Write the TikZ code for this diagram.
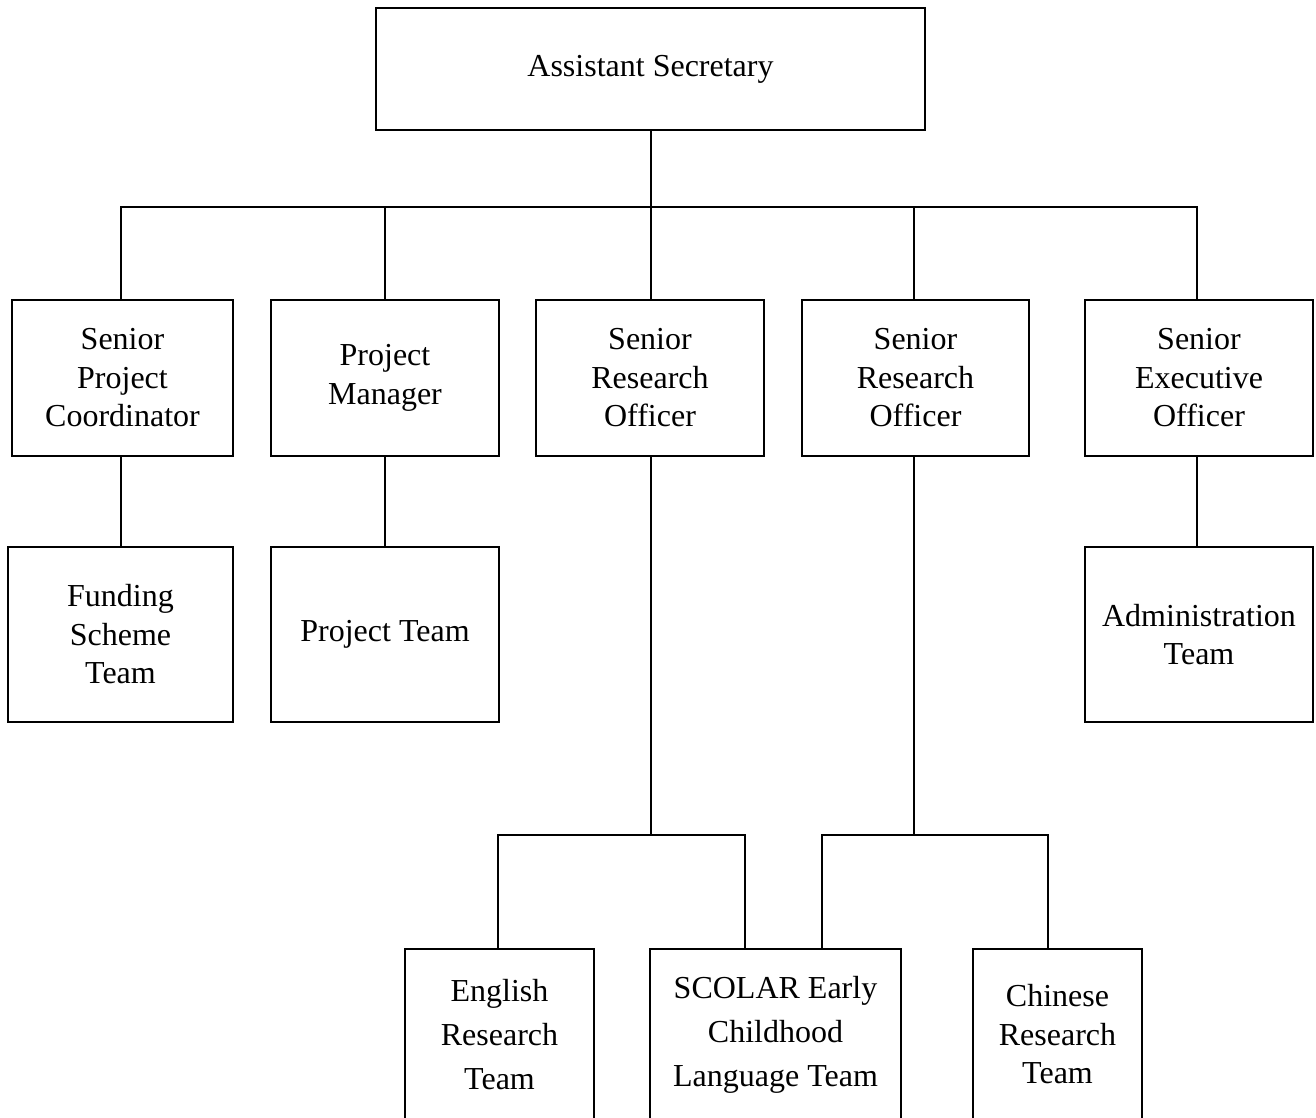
\documentclass[tikz,border=0pt]{standalone}
\usepackage{fontspec}
\setmainfont{Liberation Serif}
\usepackage{tikz}
\usetikzlibrary{positioning}

\begin{document}
\begin{tikzpicture}[-,x=1pt,y=1pt,line width=1.1pt]
		\tikzstyle{box}=[draw=black,rectangle,inner sep=0pt,align=center,font=\fontsize{32}{38.5}\selectfont]
		\tikzstyle{lowbox}=[box,minimum height=171pt,font=\fontsize{32}{44}\selectfont]
		\useasboundingbox (0,0) rectangle (1316,-1117);
		
		\node[box,minimum width=549pt,minimum height=122pt]	(AsstSec)	at (650.5,-69)		{Assistant Secretary};
		
		\node[box,minimum width=221pt,minimum height=156pt]	(SPC)		at (122.5,-378)		{Senior\\Project\\Coordinator};
		\node[box,minimum width=228pt,minimum height=156pt]	(PM)		at (385,-378)		{Project\\Manager};
		\node[box,minimum width=228pt,minimum height=156pt]	(SROa)		at (650,-378)		{Senior\\Research\\Officer};
		\node[box,minimum width=227pt,minimum height=156pt]	(SROb)		at (915.5,-378)		{Senior\\Research\\Officer};
		\node[box,minimum width=228pt,minimum height=156pt]	(SEO)		at (1199,-378)		{Senior\\Executive\\Officer};
		
		\node[box,minimum width=225pt,minimum height=175pt]	(Funding)	at (120.5,-634.5)	{Funding\\Scheme\\Team};
		\node[box,minimum width=228pt,minimum height=175pt]	(ProjTeam)	at (385,-634.5)		{Project Team};
		\node[box,minimum width=228pt,minimum height=175pt]	(Admin)		at (1199,-634.5)	{Administration\\Team};
		
		\node[lowbox,minimum width=189pt]	(English)	at (499.5,-1034.5)	{English\\Research\\Team};
		\node[lowbox,minimum width=251pt]	(Scolar)	at (775.5,-1034.5)	{SCOLAR Early\\Childhood\\Language Team};
		\node[box,minimum width=169pt,minimum height=171pt]	(Chinese)	at (1057.5,-1034.5)	{Chinese\\Research\\Team};
		
		\coordinate (Bus)	at (651,-207);
		\coordinate (ForkA)	at (651,-835);
		\coordinate (ForkB)	at (914,-835);
		
		% top level
		\draw (Bus |- AsstSec.south) -- (Bus);
		\draw (Bus) -| ([xshift=-1.5pt]SPC.north);
		\draw (Bus) -| (PM);
		\draw (Bus) -- (Bus |- SROa.north);
		\draw (Bus) -| ([xshift=-1.5pt]SROb.north);
		\draw (Bus) -| ([xshift=-2pt]SEO.north);
		
		% teams
		\draw ([xshift=-1.5pt]SPC.south) -- ([xshift=-1.5pt]SPC.south |- Funding.north);
		\draw (PM) -- (ProjTeam);
		\draw ([xshift=-2pt]SEO.south) -- ([xshift=-2pt]SEO.south |- Admin.north);
		\draw (ForkA |- SROa.south) -- (ForkA);
		\draw (ForkA) -| ([xshift=-1.5pt]English.north);
		\draw (ForkA) -| ([xshift=-30.5pt]Scolar.north);
		\draw (ForkB |- SROb.south) -- (ForkB);
		\draw (ForkB) -| ([xshift=46.5pt]Scolar.north);
		\draw (ForkB) -| ([xshift=-9.5pt]Chinese.north);
\end{tikzpicture}
\end{document}
